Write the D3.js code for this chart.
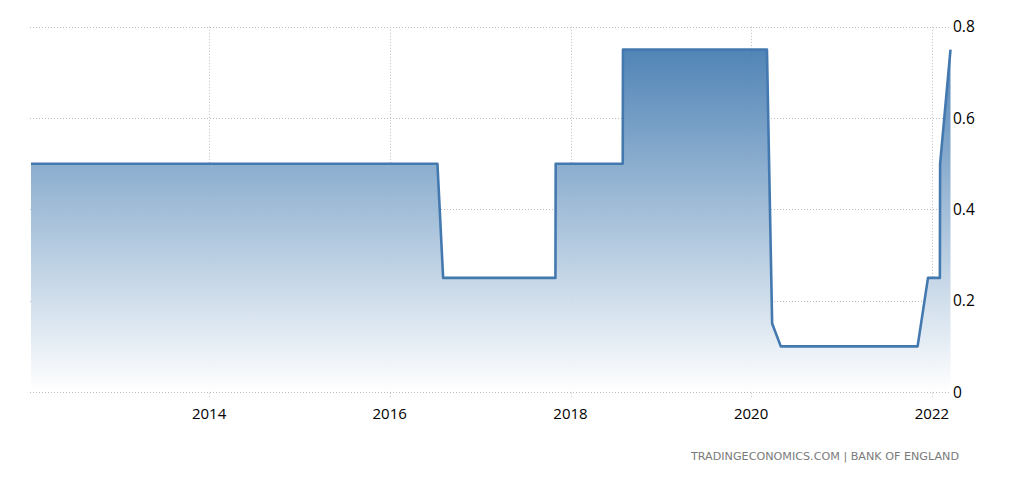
<!DOCTYPE html>
<html>
<head>
<meta charset="utf-8">
<script src="https://cdn.jsdelivr.net/npm/d3@7"></script>
<style>
  html, body { margin: 0; padding: 0; background: #fff; }
  svg { display: block; }
</style>
</head>
<body>
<svg id="chart" width="1024" height="477"></svg>
<script>
const dates = [
  "2012-01-12","2012-02-09","2012-03-08","2012-04-05","2012-05-10","2012-06-07","2012-07-05","2012-08-02","2012-09-06","2012-10-04","2012-11-08","2012-12-06",
  "2013-01-10","2013-02-07","2013-03-07","2013-04-04","2013-05-09","2013-06-06","2013-07-04","2013-08-01","2013-09-05","2013-10-10","2013-11-07","2013-12-05",
  "2014-01-09","2014-02-06","2014-03-06","2014-04-10","2014-05-08","2014-06-05","2014-07-10","2014-08-07","2014-09-04","2014-10-09","2014-11-06","2014-12-04",
  "2015-01-08","2015-02-05","2015-03-05","2015-04-09","2015-05-11","2015-06-04","2015-07-09","2015-08-06","2015-09-10","2015-10-08","2015-11-05","2015-12-10",
  "2016-01-14","2016-02-04","2016-03-17","2016-04-14","2016-05-12","2016-06-16","2016-07-12","2016-08-04","2016-09-15","2016-11-03","2016-12-15",
  "2017-02-02","2017-03-16","2017-05-11","2017-06-15","2017-08-03","2017-09-14","2017-11-01","2017-11-02","2017-12-14",
  "2018-02-08","2018-03-22","2018-05-10","2018-06-21","2018-07-31","2018-08-01","2018-09-13","2018-11-01","2018-12-20",
  "2019-02-07","2019-03-21","2019-05-02","2019-06-20","2019-08-01","2019-09-19","2019-11-07","2019-12-19",
  "2020-01-30","2020-03-05","2020-03-26","2020-04-30","2020-06-18","2020-08-06","2020-09-17","2020-11-05","2020-12-17",
  "2021-02-04","2021-03-18","2021-05-06","2021-06-24","2021-08-05","2021-09-23","2021-11-04","2021-12-16",
  "2022-02-02","2022-02-03","2022-03-17"
];
const rates = [
  0.5,0.5,0.5,0.5,0.5,0.5,0.5,0.5,0.5,0.5,0.5,0.5,
  0.5,0.5,0.5,0.5,0.5,0.5,0.5,0.5,0.5,0.5,0.5,0.5,
  0.5,0.5,0.5,0.5,0.5,0.5,0.5,0.5,0.5,0.5,0.5,0.5,
  0.5,0.5,0.5,0.5,0.5,0.5,0.5,0.5,0.5,0.5,0.5,0.5,
  0.5,0.5,0.5,0.5,0.5,0.5,0.5,0.25,0.25,0.25,0.25,
  0.25,0.25,0.25,0.25,0.25,0.25,0.25,0.5,0.5,
  0.5,0.5,0.5,0.5,0.5,0.75,0.75,0.75,0.75,
  0.75,0.75,0.75,0.75,0.75,0.75,0.75,0.75,
  0.75,0.75,0.15,0.1,0.1,0.1,0.1,0.1,0.1,
  0.1,0.1,0.1,0.1,0.1,0.1,0.1,0.25,
  0.25,0.5,0.75
];
const xTickYears = [2014, 2016, 2018, 2020, 2022];
const yTicks = [0, 0.2, 0.4, 0.6, 0.8];
const sourceText = "TRADINGECONOMICS.COM  |  BANK OF ENGLAND";

(function () {
const parse = d3.utcParse("%Y-%m-%d");
const data = dates.map((d, i) => ({ date: parse(d), value: rates[i] }));

const svg = d3.select("#chart");
const mLeft = 31, mRight = 950.5, mTop = 26.8, mBottom = 392;

const x = d3.scaleUtc()
  .domain(d3.extent(data, d => d.date))
  .range([mLeft, mRight]);
const y = d3.scaleLinear()
  .domain([0, 0.8])
  .range([mBottom, mTop]);

// gradient
const defs = svg.append("defs");
const grad = defs.append("linearGradient")
  .attr("id", "fillGrad")
  .attr("gradientUnits", "userSpaceOnUse")
  .attr("x1", 0).attr("x2", 0)
  .attr("y1", y(0.8)).attr("y2", y(0));
grad.append("stop").attr("offset", "0%").attr("stop-color", "#3b75ad");
grad.append("stop").attr("offset", "100%").attr("stop-color", "#ffffff");

// gridlines
const gridColor = "#bdbdbd";
svg.append("g").selectAll("line")
  .data(yTicks)
  .join("line")
  .attr("x1", 30).attr("x2", 950)
  .attr("y1", d => Math.round(y(d)) + 0.5)
  .attr("y2", d => Math.round(y(d)) + 0.5)
  .attr("stroke", gridColor)
  .attr("stroke-dasharray", "1,2");

const xTicks = xTickYears.map(yr => new Date(Date.UTC(yr, 0, 1)));
svg.append("g").selectAll("line")
  .data(xTicks)
  .join("line")
  .attr("x1", d => Math.round(x(d)) + 0.5)
  .attr("x2", d => Math.round(x(d)) + 0.5)
  .attr("y1", mTop)
  .attr("y2", mBottom + 5)
  .attr("stroke", gridColor)
  .attr("stroke-dasharray", "1,2");

// area
const area = d3.area()
  .x(d => x(d.date))
  .y0(y(0))
  .y1(d => y(d.value));
svg.append("path")
  .datum(data)
  .attr("d", area)
  .attr("fill", "url(#fillGrad)")
  .attr("fill-opacity", 0.95);

// line
const line = d3.line()
  .x(d => x(d.date))
  .y(d => y(d.value));
svg.append("path")
  .datum(data)
  .attr("d", line)
  .attr("fill", "none")
  .attr("stroke", "#4479b0")
  .attr("stroke-width", 2.6)
  .attr("stroke-linejoin", "round");

// x labels
svg.append("g").selectAll("text")
  .data(xTicks)
  .join("text")
  .attr("x", d => x(d))
  .attr("y", 419)
  .attr("text-anchor", "middle")
  .attr("font-family", "'Open Sans', sans-serif")
  .attr("font-size", 15)
  .attr("fill", "#000")
  .text(d => d.getUTCFullYear());

// y labels
svg.append("g").selectAll("text")
  .data(yTicks)
  .join("text")
  .attr("x", 953)
  .attr("y", d => y(d) + 5.5)
  .attr("text-anchor", "start")
  .attr("font-family", "'Open Sans', sans-serif")
  .attr("font-size", 15.5)
  .attr("fill", "#000")
  .text(d => d === 0 ? "0" : d3.format(".1f")(d));

// source
svg.append("text")
  .attr("x", 691)
  .attr("y", 460)
  .attr("font-family", "'DejaVu Sans', sans-serif")
  .attr("font-size", 10.5)
  .attr("fill", "#7a7a7a")
  .attr("textLength", 268)
  .attr("lengthAdjust", "spacingAndGlyphs")
  .text(sourceText);
})();
</script>
</body>
</html>
